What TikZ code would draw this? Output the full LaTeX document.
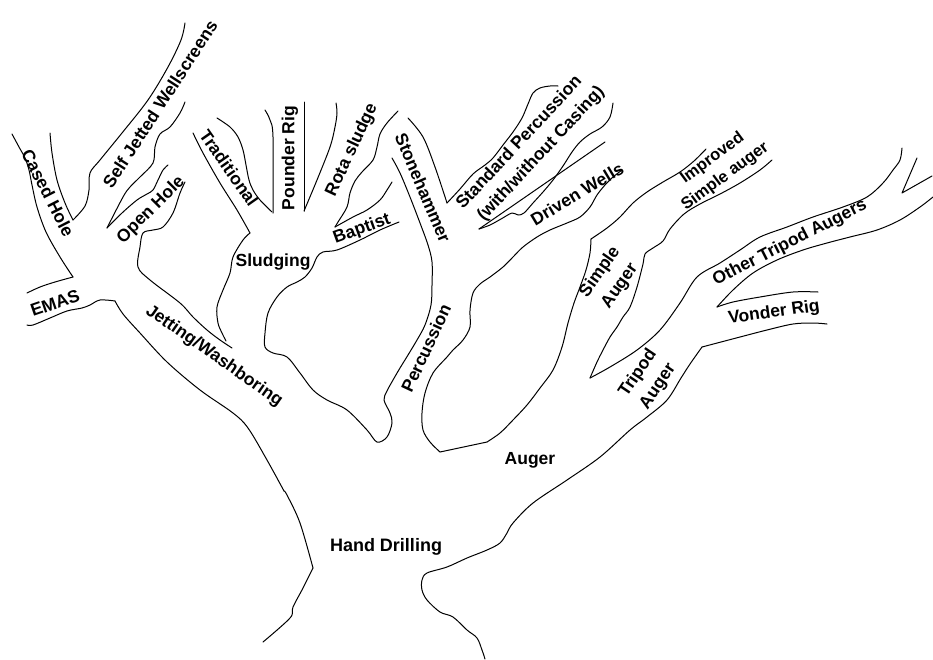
\documentclass[tikz,border=0pt]{standalone}
\usepackage{fontspec}
\setmainfont{Liberation Sans}
\begin{document}
\begin{tikzpicture}[x=1pt,y=-1pt,
  ln/.style={line width=1pt,line join=round,line cap=round},
  lbl/.style={font=\bfseries\fontsize{17.5}{24}\selectfont,inner sep=0pt,align=center},
  sml/.style={font=\bfseries\fontsize{16.5}{24}\selectfont,inner sep=0pt}]
\useasboundingbox (0,0) rectangle (933,659);
\newcommand{\cv}[1]{\draw[ln] plot[smooth,tension=0.55] coordinates {#1};}
% Cased Hole / EMAS
\cv{(12,134) (19,147) (25,158) (29,170) (32,185) (37,207) (46,232) (60,257) (73,277)}
\cv{(73,277) (55,282) (40,287) (27,293)}
\cv{(27,325) (33,325) (50,318) (67,311) (82,308) (90,305) (100,300) (115,301)}
\cv{(115,301) (123,314) (140,333) (167,362) (200,390) (233,413) (248,428) (267,460) (284,491)}
\cv{(284,491) (287,495) (300,523) (313,568)}
\cv{(313,568) (303,588) (293,607) (290,618) (263,642)}
% Cased hole right / Self jetted
\cv{(50,133) (52,153) (57,180) (65,203) (73,220)}
\cv{(73,220) (85,206) (89,190) (90,173) (100,160) (122,133) (148,100) (168,67) (181,40) (185,23)}
\cv{(185,102) (180,113) (170,127) (160,134) (155,147) (153,163) (140,177) (130,187) (123,197) (107,228)}
\cv{(107,228) (122,213) (137,200) (147,194) (153,190) (158,180) (163,170) (168,165)}
\cv{(185,182) (180,193) (173,213) (163,227) (153,230) (143,233) (140,247) (138,267) (150,280) (180,303) (193,317) (207,330) (220,340) (232,348)}
% Traditional / Sludging
\cv{(193,133) (203,153) (220,183) (237,210) (250,233)}
\cv{(250,233) (243,240) (233,257) (230,273) (223,290) (217,307) (218,323) (222,333) (226,341)}
\cv{(217,118) (230,127) (238,137) (243,150) (246,165) (249,180) (253,190) (260,200) (272,212)}
\cv{(265,110) (270,120) (273,137) (273,213)}
\draw[ln] (304,102) -- (304,211);
\cv{(304,211) (317,180) (330,147) (335,127) (337,113) (336,103)}
\cv{(398,111) (387,123) (380,134) (377,147) (373,160) (362,172) (355,181) (350,193) (347,207) (338,222) (335,227)}
\cv{(335,227) (353,217) (367,210) (380,200) (387,190) (392,182)}
\cv{(399,222) (380,230) (360,240) (337,250) (323,252) (317,257) (312,268) (305,277) (297,282) (287,287) (277,297) (268,313) (265,333) (265,347) (273,353) (287,357) (300,373) (313,390) (327,400) (347,410) (367,430) (377,442) (387,437) (392,423) (390,413) (384,400) (387,391) (393,380) (400,368) (408,355) (417,340) (425,325) (431,305) (432,285) (432,262) (428,245) (420,223) (410,197) (400,173) (392,158)}
% Stonehammer / Standard percussion
\cv{(408,118) (423,137) (435,167) (447,203)}
\cv{(447,203) (460,189) (473,174) (485,165) (493,158) (503,145) (513,132) (522,118) (528,104) (533,93) (540,88) (550,86) (558,86)}
\cv{(613,103) (610,117) (602,127) (590,134) (580,142) (572,152) (563,166) (553,180) (543,192) (533,203) (524,213) (518,215) (512,213) (501,219) (490,225) (479,229)}
\draw[ln] (479,229) -- (605,142);
% Driven wells / Auger
\cv{(622,170) (613,177) (605,185) (597,195) (590,207) (580,217) (567,223) (550,230) (537,237) (523,247) (513,257) (503,267) (490,277) (480,284) (473,293) (470,310) (470,327) (463,340) (453,350) (447,357) (433,373) (425,393) (422,413) (423,430) (430,442) (440,452)}
\draw[ln] (440,452) -- (487,442);
\cv{(487,442) (500,433) (513,420) (527,405) (540,388) (553,370) (562,347) (568,323) (574,303) (580,287) (586,270) (590,253) (591,239)}
\cv{(591,239) (607,228) (620,217) (633,203) (647,192) (663,182) (680,172) (694,161) (706,149)}
\cv{(772,160) (760,170) (740,183) (720,194) (700,204) (684,214) (670,229) (663,241) (653,248) (645,254) (643,264) (637,287) (630,307) (623,317) (617,327) (610,337) (603,350) (597,362) (590,378)}
\cv{(590,378) (610,367) (637,350) (660,330) (680,303) (697,277) (720,263) (740,250) (760,237) (787,227) (813,217) (843,207) (867,197) (883,183) (893,170) (900,160) (902,148)}
\draw[ln] (917,158) -- (902,193) -- (932,176);
\cv{(933,197) (920,207) (900,220) (877,230) (850,237) (827,243) (803,250) (777,260) (753,273) (733,290) (717,307)}
\cv{(717,307) (733,302) (760,297) (793,292) (818,292)}
\cv{(827,324) (813,323) (793,324) (767,330) (740,337) (702,347)}
\cv{(702,347) (690,364) (681,378) (667,400) (647,417) (630,430) (600,457) (567,480) (533,503) (513,523) (507,533) (500,543) (487,550) (467,558) (447,567) (427,573) (422,580) (422,590) (427,600) (440,612) (453,617) (467,630) (477,638) (482,650) (485,659)}
% Labels
\node[lbl,rotate=-63] (cased) at (48,193) {Cased Hole};
\node[lbl,rotate=57] (selfj) at (160,104) {Self Jetted Wellscreens};
\node[lbl,rotate=45] (open) at (151,210) {Open Hole};
\node[lbl,rotate=19] (emas) at (55,303) {EMAS};
\node[lbl,rotate=-35] (jet) at (214,356) {Jetting/Washboring};
\node[lbl,rotate=-55] (trad) at (229,168) {Traditional};
\node[lbl,rotate=90] (pounder) at (290,158) {Pounder Rig};
\node[lbl,rotate=65] (rota) at (352,150) {Rota sludge};
\node[lbl,rotate=20] (baptist) at (362,229) {Baptist};
\node[lbl] (sludging) at (273,262) {Sludging};
\node[lbl,rotate=-67] (stone) at (423,188) {Stonehammer};
\node[lbl,rotate=65] (perc) at (426,348) {Percussion};
\node[lbl,rotate=47,anchor=base west] (std1) at (463,210) {Standard Percussion};
\node[lbl,rotate=47,anchor=base west] (std2) at (484,222) {(with/without Casing)};
\node[lbl,rotate=31] (driven) at (577,194) {Driven Wells};
\node[sml,rotate=36.5,anchor=base west] (impr1) at (685,184) {Improved};
\node[sml,rotate=36.5,anchor=base west] (impr2) at (686,211) {Simple auger};
\node[lbl,rotate=55] (simple) at (610,279) {Simple\\Auger};
\node[lbl,rotate=27] (other) at (790,243) {Other Tripod Augers};
\node[lbl,rotate=8] (vonder) at (774,313) {Vonder Rig};
\node[lbl,rotate=56] (tripod) at (648,380) {Tripod\\Auger};
\node[lbl] (auger) at (530,460) {Auger};
\node[lbl,font=\bfseries\fontsize{18}{21}\selectfont] (hand) at (386,547) {Hand Drilling};
\end{tikzpicture}
\end{document}
